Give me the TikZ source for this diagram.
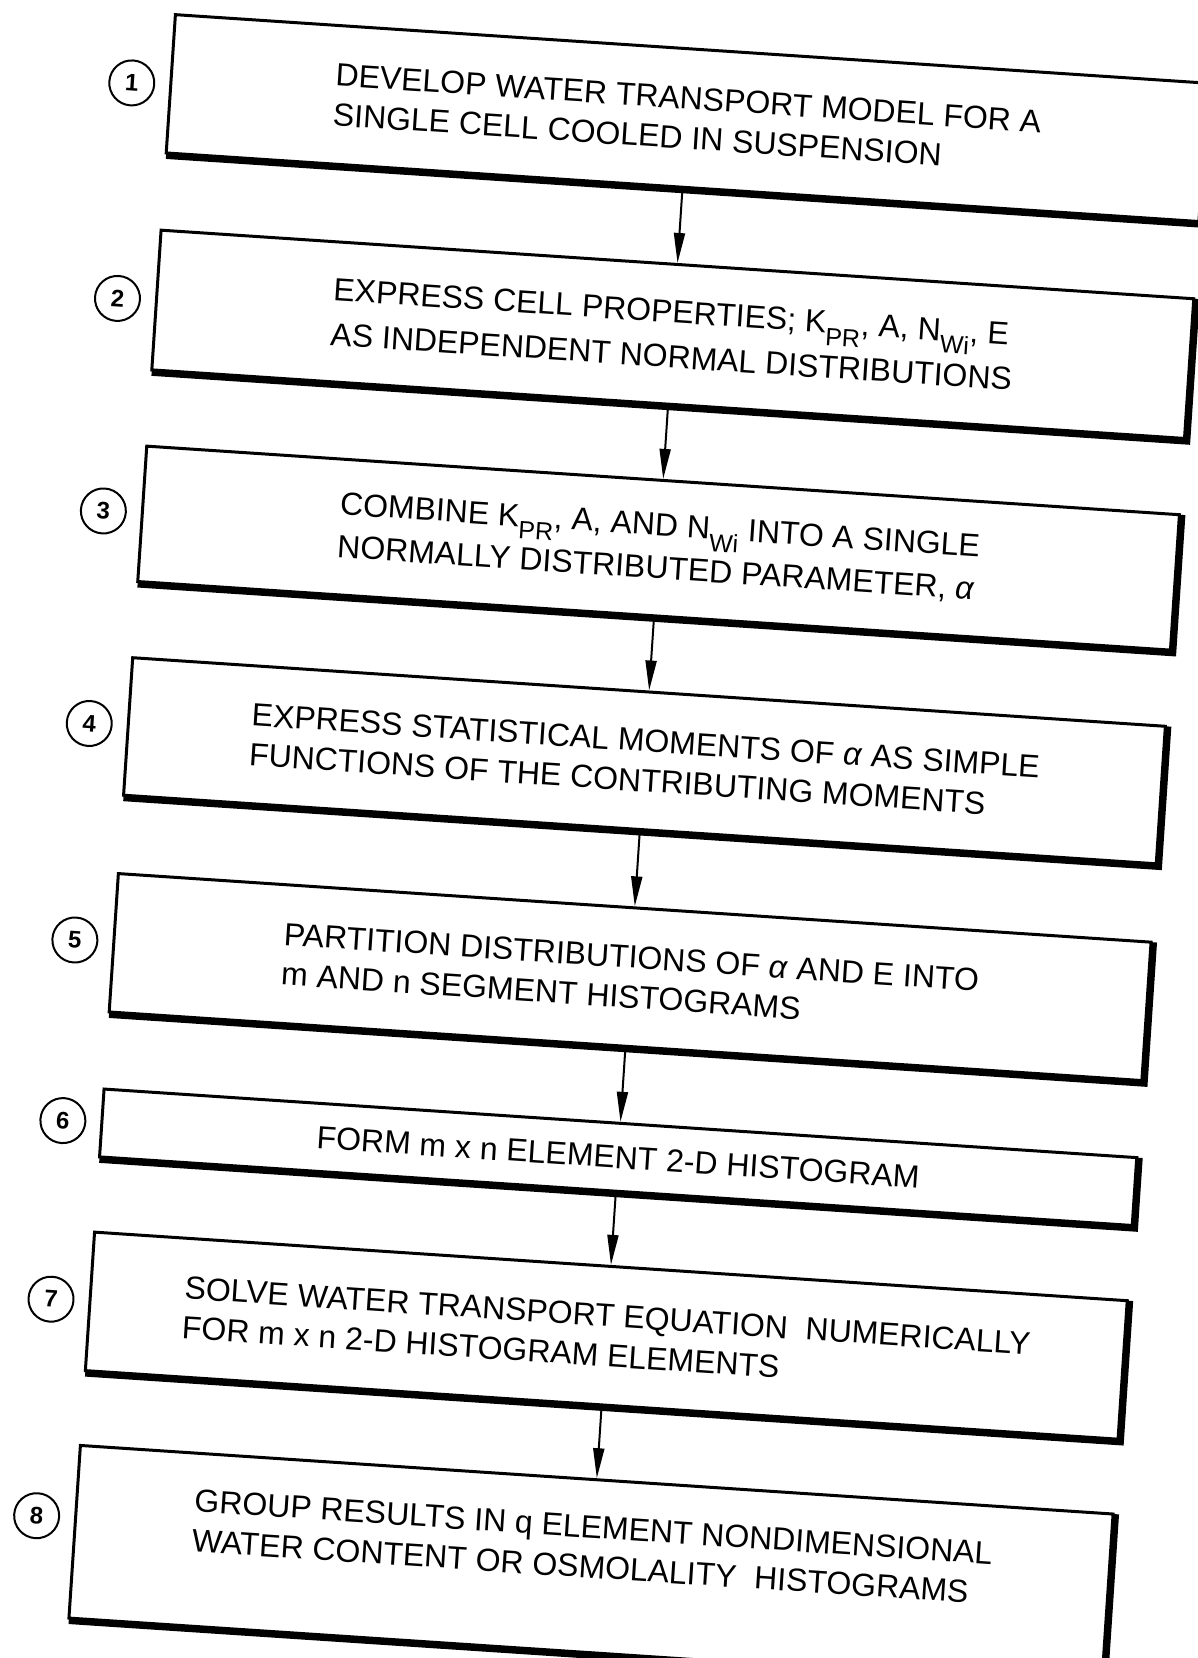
\documentclass[tikz,border=0pt]{standalone}
\usepackage{fontspec}
\setmainfont{Liberation Sans}
\usetikzlibrary{arrows.meta}
\newcommand{\lowsub}[1]{\raisebox{-0.38em}{\fontsize{25}{25}\selectfont #1}}
\newcommand{\alphasym}{\textit{α}}

\begin{document}
\begin{tikzpicture}[x=1pt,y=1pt,
  stepbox/.style={draw, line width=3pt, minimum width=1035pt, align=left,
    inner sep=0pt, font=\fontsize{32}{40}\selectfont},
  numcirc/.style={draw, circle, line width=2pt, minimum size=45pt, inner sep=0pt,
    font=\fontsize{24}{24}\selectfont\bfseries},
  flow/.style={line width=2pt, -{Triangle[length=30pt,width=11pt]}}]
\useasboundingbox (0,0) rectangle (1198,-1658);
\clip (0,0) rectangle (1198,-1658);
\begin{scope}[rotate=-3.8, transform shape]
% process steps
\node[stepbox, minimum height=138.6pt] (b1) at (693.5,-72.3)
  {DEVELOP WATER TRANSPORT MODEL FOR A\\SINGLE CELL COOLED IN SUSPENSION};
\node[stepbox, minimum height=140pt] (b2) at (693.5,-289)
  {EXPRESS CELL PROPERTIES; K\lowsub{PR}, A, N\lowsub{Wi}, E\\[5pt]AS INDEPENDENT NORMAL DISTRIBUTIONS};
\node[stepbox, minimum height=135.7pt] (b3) at (693.5,-503.3)
  {COMBINE K\lowsub{PR}, A, AND N\lowsub{Wi} INTO A SINGLE\\[3pt]NORMALLY DISTRIBUTED PARAMETER, \alphasym};
\node[stepbox, minimum height=137.8pt] (b4) at (693.5,-716.4)
  {EXPRESS STATISTICAL MOMENTS OF \alphasym\ AS SIMPLE\\FUNCTIONS OF THE CONTRIBUTING MOMENTS};
\node[stepbox, minimum height=138.7pt] (b5) at (693.5,-933.2)
  {PARTITION DISTRIBUTIONS OF \alphasym\ AND E INTO\\m AND n SEGMENT HISTOGRAMS};
\node[stepbox, minimum height=68pt] (b6) at (693.5,-1113.8)
  {FORM m x n ELEMENT 2-D HISTOGRAM};
\node[stepbox, minimum height=138.8pt] (b7) at (693.5,-1292.6)
  {SOLVE WATER TRANSPORT EQUATION\ \ NUMERICALLY\\FOR m x n 2-D HISTOGRAM ELEMENTS};
\node[stepbox, minimum height=173pt] (b8) at (693.5,-1523.5) {};
\node[align=left, font=\fontsize{32}{40}\selectfont] (t8) at ([yshift=19]b8.center)
  {GROUP RESULTS IN q ELEMENT NONDIMENSIONAL\\WATER CONTENT OR OSMOLALITY\ \ HISTOGRAMS};
% heavy lower and right edges
\foreach \i in {1,...,8} {
  \draw[line width=6pt] ([shift={(1.5,-1.5)}]b\i.south west) -- ([shift={(1.5,-1.5)}]b\i.south east)
    -- ([shift={(1.5,-1.5)}]b\i.north east);
}
% step numbers
\foreach \i/\y in {1/-74,2/-290,3/-503,4/-716,5/-933,6/-1114,7/-1293,8/-1510} {
  \node[numcirc] (n\i) at (137,\y) {\i};
}
% flow arrows
\foreach \i/\j in {1/2,2/3,3/4,4/5,5/6,6/7,7/8} {
  \draw[flow] (b\i.south) -- (b\j.north);
}
\end{scope}
\end{tikzpicture}
\end{document}
